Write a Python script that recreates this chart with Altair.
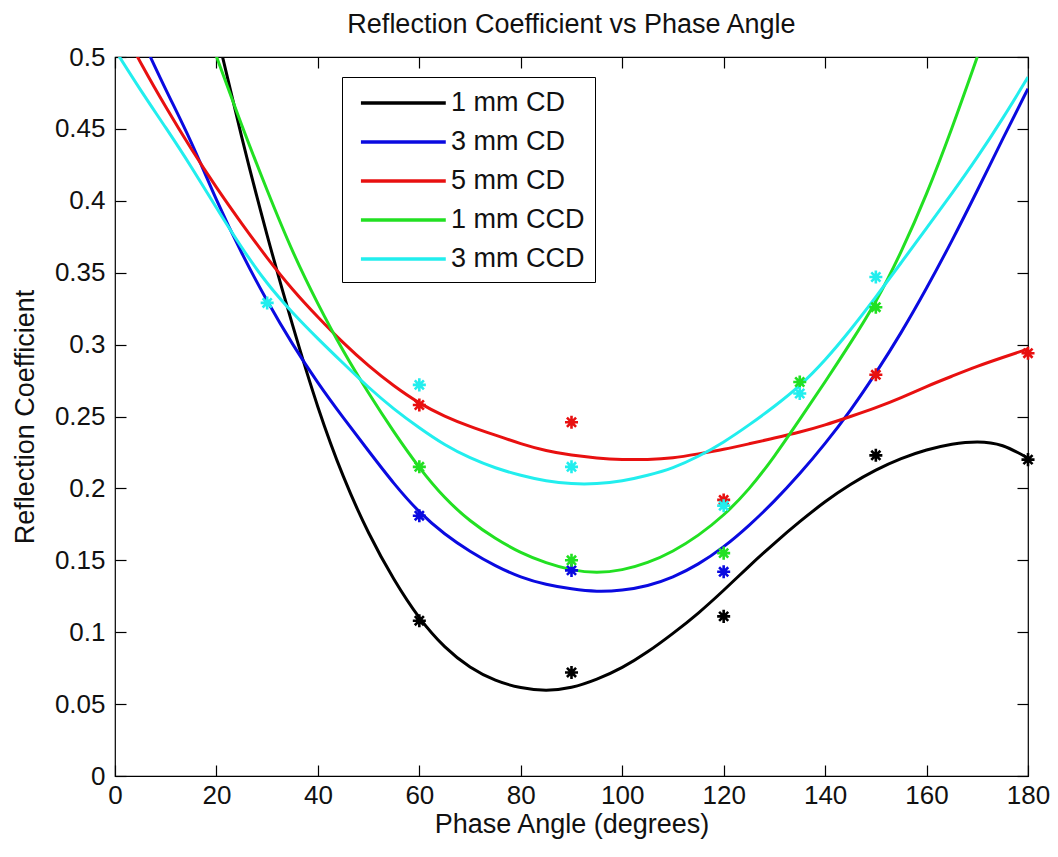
import altair as alt
import pandas as pd

# ---------------- data ----------------
series_names = ["1 mm CD", "3 mm CD", "5 mm CD", "1 mm CCD", "3 mm CCD"]
series_colors = ["#000000", "#0a0ae0", "#e81010", "#22e022", "#22eeee"]

# fitted curves (phase angle in degrees, reflection coefficient)
cd1_fit_x = [20, 25, 30, 35, 40, 45, 50, 55, 60, 65, 70, 75, 80, 85, 90, 95, 100,
             105, 110, 115, 120, 125, 130, 135, 140, 145, 150, 155, 160, 165, 170, 175, 180]
cd1_fit_y = [0.518, 0.443, 0.375, 0.313, 0.255, 0.207, 0.168, 0.136, 0.109, 0.089, 0.075,
             0.066, 0.061, 0.059, 0.061, 0.067, 0.075, 0.086, 0.099, 0.113, 0.129, 0.146,
             0.162, 0.177, 0.191, 0.203, 0.213, 0.221, 0.227, 0.231, 0.233, 0.231, 0.221]

cd3_fit_x = [5, 10, 15, 20, 25, 30, 35, 40, 45, 50, 55, 60, 65, 70, 75, 80, 85, 90, 95,
             100, 105, 110, 115, 120, 125, 130, 135, 140, 145, 150, 155, 160, 165, 170, 175, 180]
cd3_fit_y = [0.515, 0.477, 0.442, 0.400, 0.363, 0.330, 0.300, 0.273, 0.249, 0.226, 0.203,
             0.183, 0.168, 0.156, 0.146, 0.138, 0.133, 0.130, 0.128, 0.129, 0.132, 0.138,
             0.147, 0.159, 0.174, 0.191, 0.210, 0.231, 0.254, 0.280, 0.308, 0.339, 0.372,
             0.407, 0.443, 0.478]

cd5_fit_x = [3, 5, 10, 15, 20, 25, 30, 35, 40, 45, 50, 55, 60, 65, 70, 75, 80, 85, 90, 95,
             100, 105, 110, 115, 120, 125, 130, 135, 140, 145, 150, 155, 160, 165, 170, 175, 180]
cd5_fit_y = [0.510, 0.496, 0.465, 0.436, 0.409, 0.384, 0.360, 0.338, 0.319, 0.301, 0.285,
             0.271, 0.259, 0.250, 0.243, 0.237, 0.231, 0.226, 0.223, 0.221, 0.220, 0.220,
             0.221, 0.224, 0.227, 0.231, 0.235, 0.239, 0.244, 0.250, 0.256, 0.263, 0.271,
             0.278, 0.285, 0.291, 0.297]

ccd1_fit_x = [19, 25, 30, 35, 40, 45, 50, 55, 60, 65, 70, 75, 80, 85, 90, 95, 100, 105,
              110, 115, 120, 125, 130, 135, 140, 145, 150, 155, 160, 165, 170]
ccd1_fit_y = [0.510, 0.452, 0.407, 0.364, 0.328, 0.295, 0.266, 0.239, 0.214, 0.193, 0.177,
              0.165, 0.155, 0.148, 0.143, 0.141, 0.143, 0.148, 0.156, 0.167, 0.181, 0.199,
              0.222, 0.248, 0.274, 0.301, 0.329, 0.364, 0.404, 0.450, 0.500]

ccd3_fit_x = [0, 5, 10, 15, 20, 25, 30, 35, 40, 45, 50, 55, 60, 65, 70, 75, 80, 85, 90, 95,
              100, 105, 110, 115, 120, 125, 130, 135, 140, 145, 150, 155, 160, 165, 170, 175, 180]
ccd3_fit_y = [0.505, 0.477, 0.451, 0.424, 0.395, 0.367, 0.342, 0.322, 0.304, 0.287, 0.270,
              0.255, 0.242, 0.230, 0.221, 0.214, 0.209, 0.205, 0.203, 0.203, 0.205, 0.209,
              0.214, 0.222, 0.232, 0.244, 0.257, 0.271, 0.289, 0.310, 0.333, 0.357, 0.381,
              0.405, 0.430, 0.457, 0.486]

# measured points
cd1_pts_x = [60, 90, 120, 150, 180]
cd1_pts_y = [0.108, 0.072, 0.111, 0.223, 0.220]
cd3_pts_x = [60, 90, 120]
cd3_pts_y = [0.181, 0.143, 0.142]
cd5_pts_x = [60, 90, 120, 150, 180]
cd5_pts_y = [0.258, 0.246, 0.192, 0.279, 0.294]
ccd1_pts_x = [60, 90, 120, 135, 150]
ccd1_pts_y = [0.215, 0.150, 0.155, 0.274, 0.326]
ccd3_pts_x = [30, 60, 90, 120, 135, 150]
ccd3_pts_y = [0.329, 0.272, 0.215, 0.188, 0.266, 0.347]

x_ticks = [0, 20, 40, 60, 80, 100, 120, 140, 160, 180]
y_ticks = [0, 0.05, 0.1, 0.15, 0.2, 0.25, 0.3, 0.35, 0.4, 0.45, 0.5]

# ---------------- tables ----------------
fits = [(cd1_fit_x, cd1_fit_y), (cd3_fit_x, cd3_fit_y), (cd5_fit_x, cd5_fit_y),
        (ccd1_fit_x, ccd1_fit_y), (ccd3_fit_x, ccd3_fit_y)]
pts = [(cd1_pts_x, cd1_pts_y), (cd3_pts_x, cd3_pts_y), (cd5_pts_x, cd5_pts_y),
       (ccd1_pts_x, ccd1_pts_y), (ccd3_pts_x, ccd3_pts_y)]

fit_rows, pt_rows = [], []
for name, (xs, ys) in zip(series_names, fits):
    for i, (a, b) in enumerate(zip(xs, ys)):
        fit_rows.append({"series": name, "angle": a, "coef": b, "order": i})
for name, (xs, ys) in zip(series_names, pts):
    for a, b in zip(xs, ys):
        pt_rows.append({"series": name, "angle": a, "coef": b})
fit_df = pd.DataFrame(fit_rows)
pt_df = pd.DataFrame(pt_rows)

FONT = "Liberation Sans"
TICK = 11

x_scale = alt.Scale(domain=[0, 180], nice=False, zero=False)
y_scale = alt.Scale(domain=[0, 0.5], nice=False, zero=False)
color_scale = alt.Scale(domain=series_names, range=series_colors)

lines = alt.Chart(fit_df).mark_line(clip=True, strokeWidth=3, interpolate="basis").encode(
    x=alt.X("angle:Q", scale=x_scale,
            axis=alt.Axis(orient="bottom", values=x_ticks, title="Phase Angle (degrees)",
                          offset=-TICK, tickSize=TICK, labelPadding=6, titlePadding=3,
                          labelFlush=False)),
    y=alt.Y("coef:Q", scale=y_scale,
            axis=alt.Axis(orient="left", values=y_ticks, format="~g", title="Reflection Coefficient",
                          offset=-TICK, tickSize=TICK, labelPadding=10, titlePadding=15,
                          labelFlush=False)),
    color=alt.Color("series:N", scale=color_scale, sort=series_names,
                    legend=alt.Legend(title=None, orient="none", legendX=227, legendY=20,
                                      fillColor="white", strokeColor="black", padding=10,
                                      symbolType="M-0.5,0L5.5,0", symbolSize=800,
                                      symbolStrokeWidth=3.5, labelOffset=67, rowPadding=10,
                                      labelFont=FONT, labelFontSize=27, labelColor="#111111",
                                      labelLimit=400)),
    order="order:Q",
    detail="series:N",
)

asterisk = "M-1,0L1,0M0,-1L0,1M-0.7,-0.7L0.7,0.7M-0.7,0.7L0.7,-0.7"
points = alt.Chart(pt_df).mark_point(shape=asterisk, size=170, strokeWidth=2.6, filled=False,
                                     opacity=1).encode(
    x=alt.X("angle:Q", scale=x_scale,
            axis=alt.Axis(orient="top", values=x_ticks, labels=False, title=None,
                          offset=-TICK, tickSize=TICK)),
    y=alt.Y("coef:Q", scale=y_scale,
            axis=alt.Axis(orient="right", values=y_ticks, labels=False, title=None,
                          offset=-TICK, tickSize=TICK)),
    color=alt.Color("series:N", scale=color_scale, legend=None),
)

chart = alt.layer(lines, points).properties(
    width=913,
    height=719,
    autosize=alt.AutoSizeParams(type="none"),
    padding={"left": 107, "top": 49, "right": 22, "bottom": 68},
    background="white",
    title=alt.TitleParams("Reflection Coefficient vs Phase Angle", font=FONT, fontSize=27,
                          fontWeight="normal", color="#111111", anchor="middle", offset=5),
).configure_view(
    stroke="black", strokeWidth=1.2
).configure_axis(
    grid=False, domain=False, tickColor="black", tickWidth=1.2,
    labelFont=FONT, labelFontSize=26, labelColor="#111111",
    titleFont=FONT, titleFontSize=27, titleFontWeight="normal", titleColor="#111111",
)

chart.save("out.html", embed_options={"renderer": "svg", "actions": False})
